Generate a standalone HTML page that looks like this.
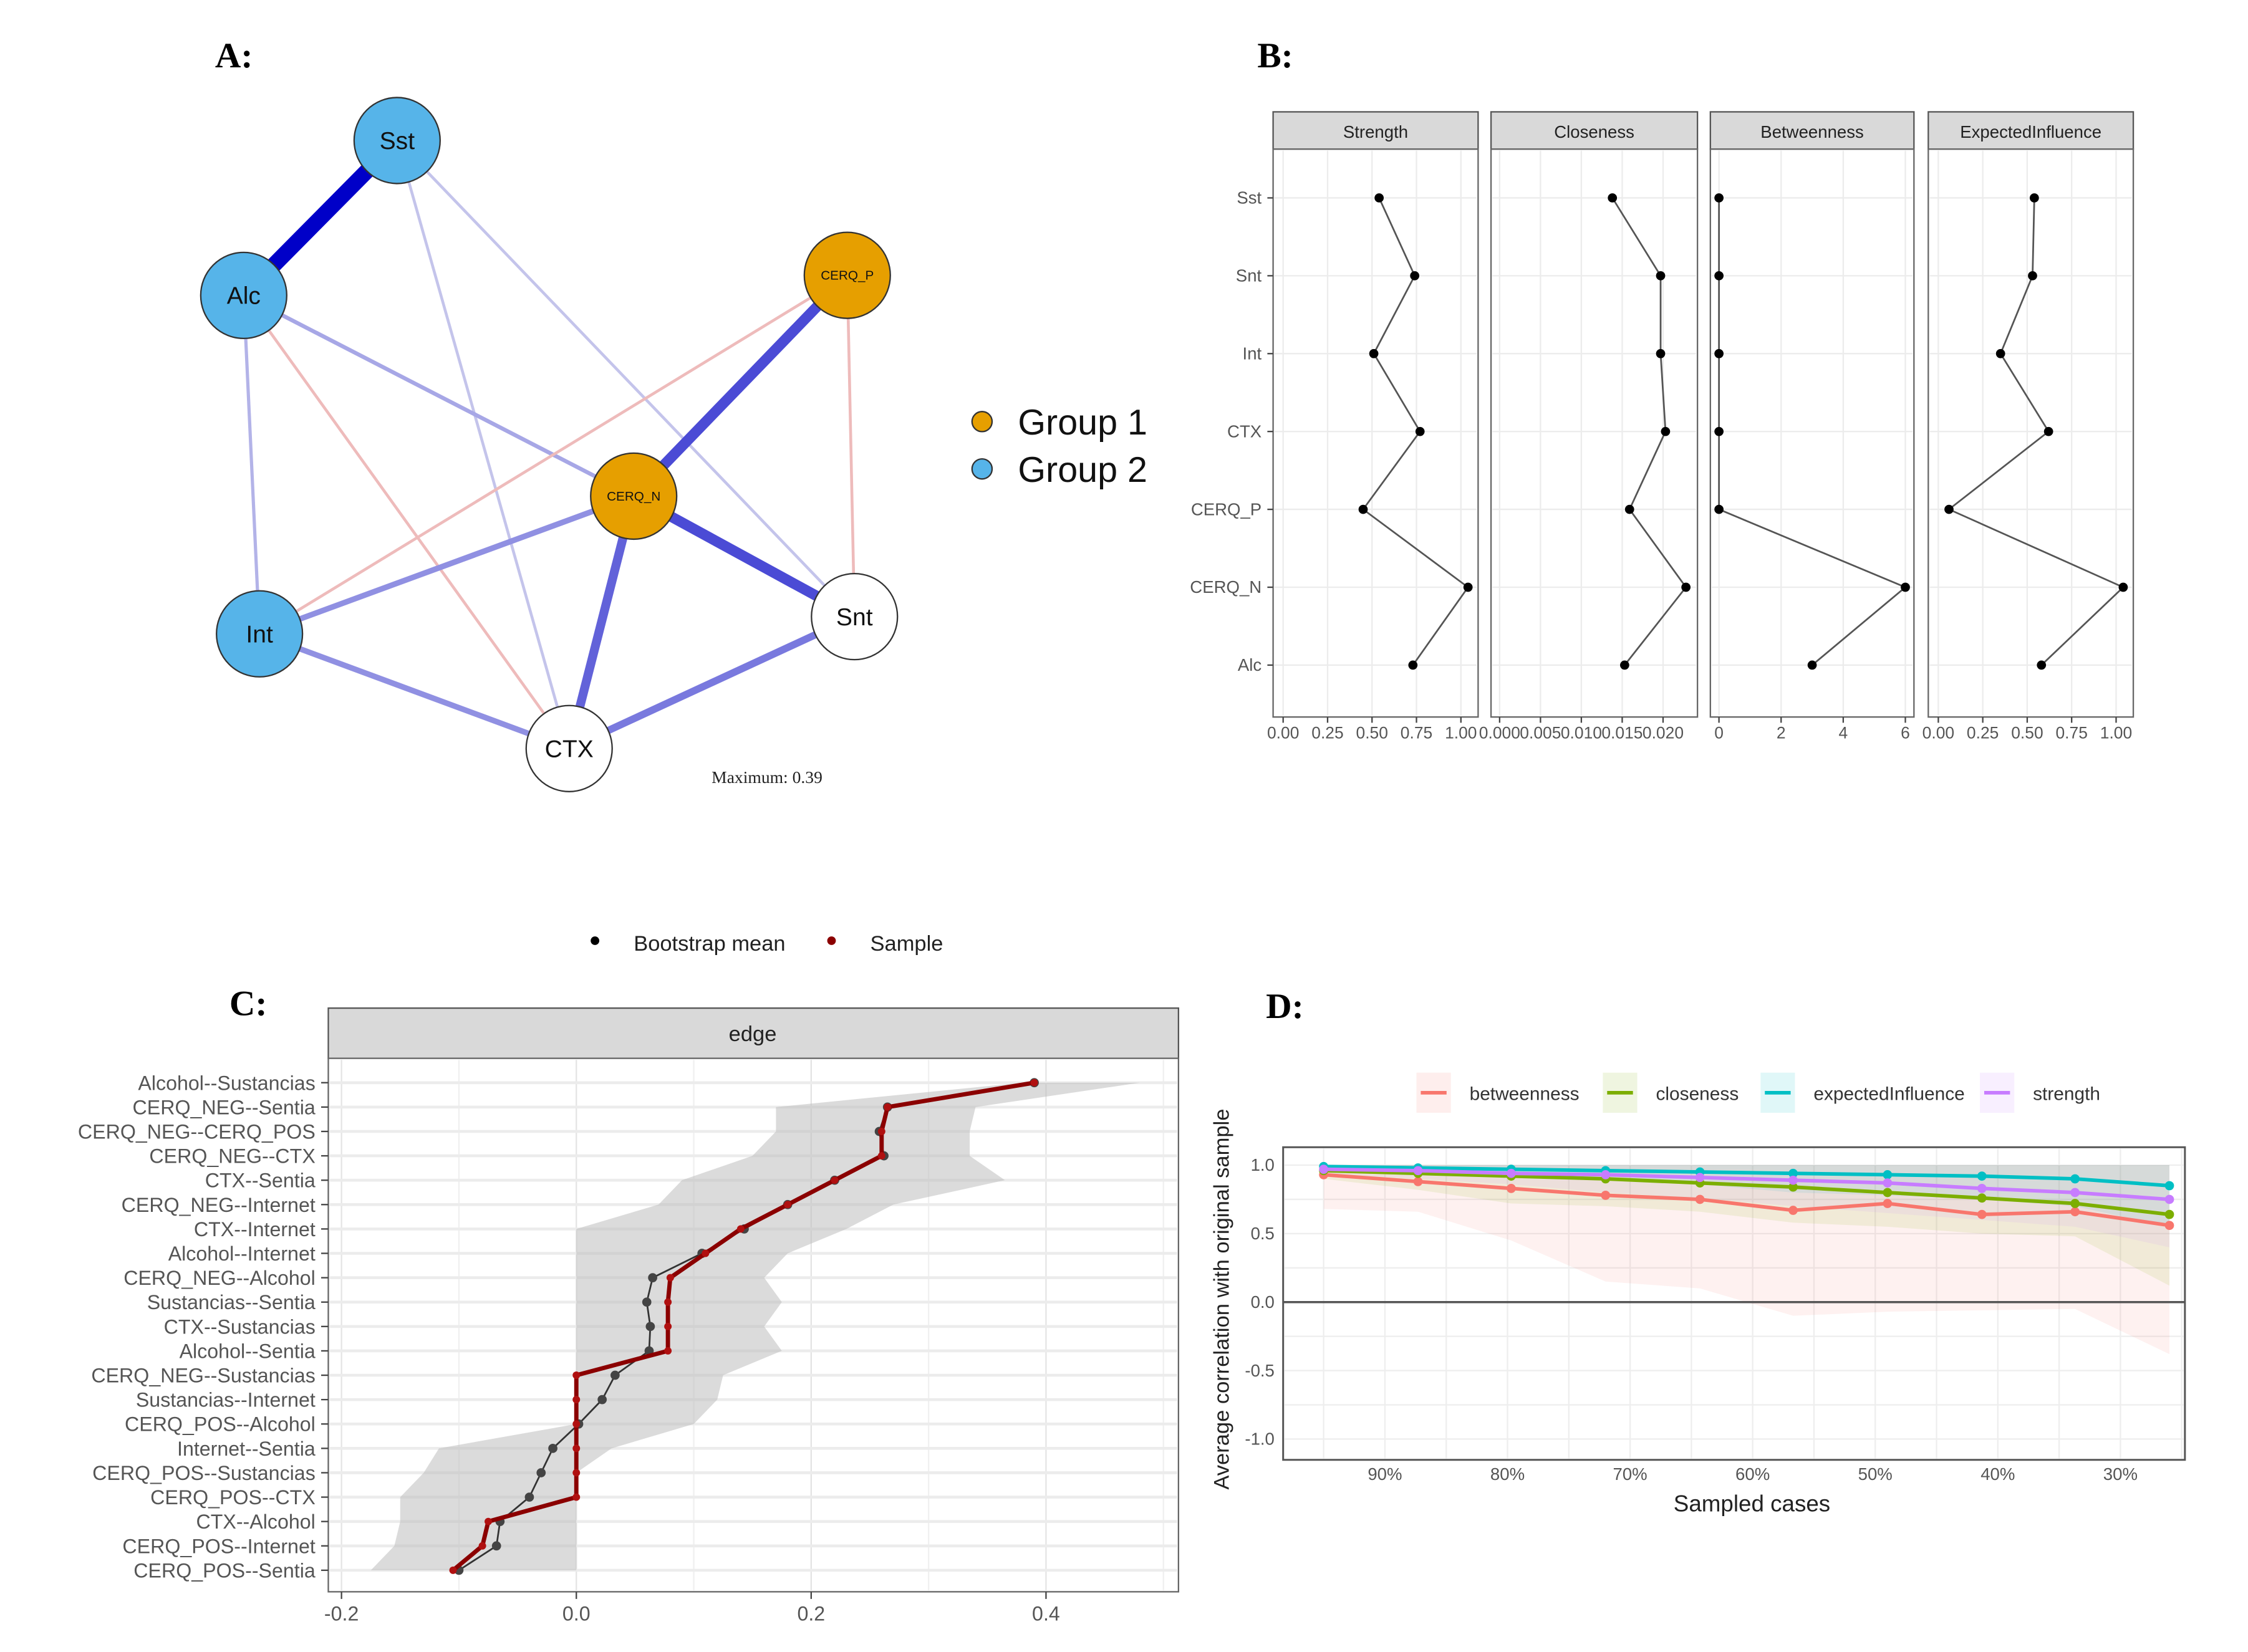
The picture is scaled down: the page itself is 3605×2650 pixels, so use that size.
<!DOCTYPE html>
<html><head><meta charset="utf-8"><style>
html,body{margin:0;padding:0;background:#fff}
svg{display:block;font-family:"Liberation Sans",sans-serif}
</style></head><body>
<svg id="fig" width="3605" height="2650" viewBox="0 0 1568 1152" preserveAspectRatio="none" xmlns="http://www.w3.org/2000/svg">
<rect width="1568" height="1152" fill="#fff"/>
<g font-family="Liberation Serif,serif" font-weight="bold" font-size="25" fill="#000">
<text x="150" y="47">A:</text>
<text x="877" y="47">B:</text>
<text x="160" y="708">C:</text>
<text x="883" y="710">D:</text>
</g>
<g id="A"></g>
<g id="B"></g>
<g id="C"></g>
<g id="D"></g>
</svg>
<script>
const NS="http://www.w3.org/2000/svg";
function mk(p,tag,at,txt){const e=document.createElementNS(NS,tag);for(const k in at)e.setAttribute(k,at[k]);if(txt!==undefined)e.textContent=txt;p.appendChild(e);return e;}

/* ---------- Panel A data ---------- */
const nodeNames=["Sst","Alc","CERQ_P","CERQ_N","Int","Snt","CTX"];
const nodeGroup=[2,2,1,1,2,0,0];
const edgeFrom=["Sst","Sst","Sst","Alc","Alc","Alc","CERQ_P","CERQ_P","CERQ_P","CERQ_N","CERQ_N","CERQ_N","Int","CTX"];
const edgeTo=["Alc","Snt","CTX","CERQ_N","Int","CTX","Int","CERQ_N","Snt","Int","Snt","CTX","CTX","Snt"];
const edgeWeight=[0.39,0.05,0.05,0.1,0.08,-0.06,-0.06,0.26,-0.07,0.14,0.26,0.22,0.14,0.18];
const nodePos={Sst:[277,98],Alc:[170,206],CERQ_P:[591,192],CERQ_N:[442,346],Int:[181,442],Snt:[596,430],CTX:[397,522]};
(function(){
const g=document.getElementById('A');
edgeFrom.forEach((f,i)=>{const a=nodePos[f],b=nodePos[edgeTo[i]],w=edgeWeight[i];
 const s=Math.abs(w)/0.39;
 let col;
 if(w>0){const l=Math.round(225-s*225);col=`rgb(${l},${l},${Math.round(240-s*40)})`;}else col="#eebbbb";
 const e=mk(g,'line',{x1:a[0],y1:a[1],x2:b[0],y2:b[1],stroke:col,'stroke-width':Math.max(2,s*11)});
 
 
});
const fills={1:'#E69F00',2:'#56B4E9',0:'#ffffff'};
nodeNames.forEach((n,i)=>{const p=nodePos[n];
 const c=mk(g,'circle',{cx:p[0],cy:p[1],r:30,fill:fills[nodeGroup[i]],stroke:'#333','stroke-width':1});
 
 
 const small=n.startsWith('CERQ');
 const t=mk(g,'text',{x:p[0],y:p[1]+(small?3:6),'text-anchor':'middle','font-size':small?9:17,fill:'#111'},n);
 
 
});
const m=mk(g,'text',{x:535,y:546,'text-anchor':'middle','font-size':12,'font-family':'Liberation Serif,serif',fill:'#222'},'Maximum: 0.39');


[['Group 1','#E69F00',294],['Group 2','#56B4E9',327]].forEach(([t,c,y])=>{
 const d=mk(g,'circle',{cx:685,cy:y,r:7,fill:c,stroke:'#333'});
 
 
 const tx=mk(g,'text',{x:710,y:y+9,'font-size':25,fill:'#111'},t);
 
 
});
})();

/* ---------- Panel B data ---------- */
const bNodes=["Sst","Snt","Int","CTX","CERQ_P","CERQ_N","Alc"];
const bTitles=["Strength","Closeness","Betweenness","ExpectedInfluence"];
const strengthVals=[0.54,0.74,0.51,0.77,0.45,1.04,0.73];
const closenessVals=[0.0138,0.0197,0.0197,0.0203,0.0159,0.0228,0.0153];
const betweennessVals=[0,0,0,0,0,6,3];
const eiVals=[0.54,0.53,0.35,0.62,0.06,1.04,0.58];
const strengthTicks=["0.00","0.25","0.50","0.75","1.00"];
const closenessTicks=["0.000","0.005","0.010","0.015","0.020"];
const betweennessTicks=["0","2","4","6"];
const eiTicks=["0.00","0.25","0.50","0.75","1.00"];
(function(){
const g=document.getElementById('B');
const panels=[
 {x0:888,x1:1031,d0:0,v0:895,d1:1,v1:1019,vals:strengthVals,ticks:strengthTicks},
 {x0:1040,x1:1184,d0:0,v0:1046,d1:0.02,v1:1160,vals:closenessVals,ticks:closenessTicks},
 {x0:1193,x1:1335,d0:0,v0:1199,d1:6,v1:1329,vals:betweennessVals,ticks:betweennessTicks},
 {x0:1345,x1:1488,d0:0,v0:1352,d1:1,v1:1476,vals:eiVals,ticks:eiTicks}];
const yOf=i=>138+i*54.3;
panels.forEach((p,k)=>{
 const sx=v=>p.v0+(v-p.d0)*(p.v1-p.v0)/(p.d1-p.d0);
 const strip=mk(g,'rect',{x:p.x0,y:78,width:p.x1-p.x0,height:26,fill:'#d9d9d9',stroke:'#555','stroke-width':1});
 
 
 const st=mk(g,'text',{x:(p.x0+p.x1)/2,y:96,'text-anchor':'middle','font-size':12,fill:'#222'},bTitles[k]);
 
 
 const pb=mk(g,'rect',{x:p.x0,y:104,width:p.x1-p.x0,height:396,fill:'#fff',stroke:'#666','stroke-width':1});
 
 
 p.ticks.forEach((t,j)=>{const x=sx(parseFloat(t));
  const gl=mk(g,'line',{x1:x,x2:x,y1:105,y2:499,stroke:'#ececec'});
  
  
  const tk=mk(g,'line',{x1:x,x2:x,y1:500,y2:504,stroke:'#444'});
  
  
  const tl=mk(g,'text',{x:x,y:515,'text-anchor':'middle','font-size':11.5,fill:'#555'},t);
  
  
 });
 bNodes.forEach((n,i)=>{const gl=mk(g,'line',{x1:p.x0+1,x2:p.x1-1,y1:yOf(i),y2:yOf(i),stroke:'#ececec'});
  
  });
 const pts=p.vals.map((v,i)=>sx(v)+','+yOf(i)).join(' ');
 const pl=mk(g,'polyline',{points:pts,fill:'none',stroke:'#555','stroke-width':1.2});
 
 
 p.vals.forEach((v,i)=>{const c=mk(g,'circle',{cx:sx(v),cy:yOf(i),r:3.2,fill:'#000'});
  
  });
});
bNodes.forEach((n,i)=>{
 const t=mk(g,'text',{x:880,y:yOf(i)+4,'text-anchor':'end','font-size':12,fill:'#555'},n);
 
 
 const tk=mk(g,'line',{x1:884,x2:888,y1:yOf(i),y2:yOf(i),stroke:'#444'});
 
 
});
})();

/* ---------- Panel C data ---------- */
const edgeLabels=["Alcohol--Sustancias","CERQ_NEG--Sentia","CERQ_NEG--CERQ_POS","CERQ_NEG--CTX","CTX--Sentia","CERQ_NEG--Internet","CTX--Internet","Alcohol--Internet","CERQ_NEG--Alcohol","Sustancias--Sentia","CTX--Sustancias","Alcohol--Sentia","CERQ_NEG--Sustancias","Sustancias--Internet","CERQ_POS--Alcohol","Internet--Sentia","CERQ_POS--Sustancias","CERQ_POS--CTX","CTX--Alcohol","CERQ_POS--Internet","CERQ_POS--Sentia"];
const sampleVals=[0.39,0.265,0.26,0.26,0.22,0.18,0.14,0.11,0.08,0.078,0.078,0.078,0,0,0,0,0,0,-0.075,-0.08,-0.105];
const bootMeans=[0.39,0.265,0.258,0.262,0.22,0.18,0.143,0.107,0.065,0.06,0.063,0.062,0.033,0.022,0.002,-0.02,-0.03,-0.04,-0.065,-0.068,-0.1];
const ciLower=[0.38,0.17,0.17,0.15,0.09,0.07,0,0,0,0,0,0,0,0,0,-0.117,-0.13,-0.15,-0.15,-0.155,-0.175];
const ciUpper=[0.48,0.34,0.335,0.335,0.365,0.27,0.23,0.18,0.16,0.175,0.16,0.175,0.125,0.12,0.1,0.03,0,0,0,0,0];
const cTicks=[-0.2,0,0.2,0.4];
(function(){
const g=document.getElementById('C');
const sx=v=>402+v*819, y=i=>755+i*17;
[['Bootstrap mean','#000',415],['Sample','#8b0000',580]].forEach(([t,c,x])=>{
 const d=mk(g,'circle',{cx:x,cy:656,r:3,fill:c});
 
 
 const tx=mk(g,'text',{x:x+27,y:663,'font-size':15,fill:'#222'},t);
 
 
});
const strip=mk(g,'rect',{x:229,y:703,width:593,height:35,fill:'#d9d9d9',stroke:'#555'});


const st=mk(g,'text',{x:525,y:726,'text-anchor':'middle','font-size':15,fill:'#222'},'edge');


const pb=mk(g,'rect',{x:229,y:738,width:593,height:372,fill:'#fff',stroke:'#666'});


for(let v=-0.2;v<=0.501;v+=0.1){const gl=mk(g,'line',{x1:sx(v),x2:sx(v),y1:739,y2:1109,stroke:Math.abs(v*10%2)<0.01?'#e4e4e4':'#f0f0f0'});
 
 }
edgeLabels.forEach((l,i)=>{const gl=mk(g,'line',{x1:230,x2:821,y1:y(i),y2:y(i),stroke:'#ececec','stroke-width':2});
 
 });
let pts=ciUpper.map((v,i)=>sx(v)+','+y(i)).concat(ciLower.map((v,i)=>sx(v)+','+y(i)).reverse());
const band=mk(g,'polygon',{points:pts.join(' '),fill:'#bdbdbd','fill-opacity':0.55});


const bl=mk(g,'polyline',{points:bootMeans.map((v,i)=>sx(v)+','+y(i)).join(' '),fill:'none',stroke:'#333','stroke-width':1.2});


bootMeans.forEach((v,i)=>{const c=mk(g,'circle',{cx:sx(v),cy:y(i),r:3.2,fill:'#444'});
 
 });
const sl=mk(g,'polyline',{points:sampleVals.map((v,i)=>sx(v)+','+y(i)).join(' '),fill:'none',stroke:'#8b0000','stroke-width':3});


sampleVals.forEach((v,i)=>{const c=mk(g,'circle',{cx:sx(v),cy:y(i),r:2.6,fill:'#b01010'});
 
 });
edgeLabels.forEach((l,i)=>{const t=mk(g,'text',{x:220,y:y(i)+5,'text-anchor':'end','font-size':14,fill:'#555'},l);
 
 
 const tk=mk(g,'line',{x1:224,x2:229,y1:y(i),y2:y(i),stroke:'#444'});
 
 });
cTicks.forEach(v=>{const t=mk(g,'text',{x:sx(v),y:1130,'text-anchor':'middle','font-size':14,fill:'#555'},v.toFixed(1));
 
 
 const tk=mk(g,'line',{x1:sx(v),x2:sx(v),y1:1110,y2:1115,stroke:'#444'});
 
 });
})();

/* ---------- Panel D data ---------- */
const sampledPct=[95,87.3,79.7,72,64.3,56.7,49,41.3,33.7,26];
const betweennessCor=[0.93,0.88,0.83,0.78,0.75,0.67,0.72,0.64,0.66,0.56];
const closenessCor=[0.96,0.94,0.92,0.9,0.87,0.84,0.8,0.76,0.72,0.64];
const eiCor=[0.99,0.98,0.97,0.96,0.95,0.94,0.93,0.92,0.9,0.85];
const strengthCor=[0.97,0.96,0.94,0.93,0.91,0.89,0.87,0.83,0.8,0.75];
const betweennessLo=[0.68,0.66,0.45,0.15,0.1,-0.1,-0.07,-0.06,-0.05,-0.38];
const closenessLo=[0.9,0.82,0.72,0.7,0.66,0.58,0.55,0.5,0.48,0.12];
const eiLo=[0.97,0.95,0.93,0.9,0.86,0.8,0.78,0.75,0.7,0.55];
const strengthLo=[0.93,0.9,0.86,0.8,0.76,0.7,0.65,0.6,0.55,0.4];
const bandHi=[1,1,1,1,1,1,1,1,1,1];
const dXTicks=[90,80,70,60,50,40,30];
const dYTicks=[1,0.5,0,-0.5,-1];
(function(){
const g=document.getElementById('D');
const sx=p=>966+(90-p)*8.55, sy=v=>908-v*95.5;
const series=[['betweenness','#F8766D',betweennessCor,betweennessLo],['closeness','#7CAE00',closenessCor,closenessLo],['expectedInfluence','#00BFC4',eiCor,eiLo],['strength','#C77CFF',strengthCor,strengthLo]];
const legX=[1000,1130,1240,1393];
series.forEach((s,k)=>{const x=legX[k];
 const bg=mk(g,'rect',{x:x-12,y:748,width:24,height:28,fill:s[1],'fill-opacity':0.12});
 
 
 const ln=mk(g,'line',{x1:x-9,x2:x+9,y1:762,y2:762,stroke:s[1],'stroke-width':2.5});
 
 
 const t=mk(g,'text',{x:x+25,y:767,'font-size':13,fill:'#333'},s[0]);
 
 
});
const pb=mk(g,'rect',{x:895,y:800,width:629,height:218,fill:'#fff',stroke:'#555','stroke-width':1.3});


for(let v=-1;v<=1.01;v+=0.25){const gl=mk(g,'line',{x1:896,x2:1523,y1:sy(v),y2:sy(v),stroke:'#eeeeee'});
 
 }
for(let p=95;p>=25;p-=5){const gl=mk(g,'line',{x1:sx(p),x2:sx(p),y1:801,y2:1017,stroke:'#eeeeee'});
 
 }
series.forEach(s=>{const pts=bandHi.map((v,i)=>sx(sampledPct[i])+','+sy(v)).concat(s[3].map((v,i)=>sx(sampledPct[i])+','+sy(v)).reverse());
 const b=mk(g,'polygon',{points:pts.join(' '),fill:s[1],'fill-opacity':0.1});
 
 });
const z=mk(g,'line',{x1:895,x2:1524,y1:sy(0),y2:sy(0),stroke:'#555','stroke-width':1.5});


series.forEach(s=>{const l=mk(g,'polyline',{points:s[2].map((v,i)=>sx(sampledPct[i])+','+sy(v)).join(' '),fill:'none',stroke:s[1],'stroke-width':2.5});
 
 
 s[2].forEach((v,i)=>{const c=mk(g,'circle',{cx:sx(sampledPct[i]),cy:sy(v),r:3.2,fill:s[1]});
  
  });});
dYTicks.forEach(v=>{const t=mk(g,'text',{x:889,y:sy(v)+4,'text-anchor':'end','font-size':12,fill:'#555'},v.toFixed(1));
 
 });
dXTicks.forEach(p=>{const t=mk(g,'text',{x:sx(p),y:1032,'text-anchor':'middle','font-size':12,fill:'#555'},p+'%');
 
 });
const xt=mk(g,'text',{x:1222,y:1054,'text-anchor':'middle','font-size':16,fill:'#222'},'Sampled cases');


const yt=mk(g,'text',{x:0,y:0,'text-anchor':'middle','font-size':15,fill:'#222',transform:'translate(857,906) rotate(-90)'},'Average correlation with original sample');


})();
</script>
</body></html>
